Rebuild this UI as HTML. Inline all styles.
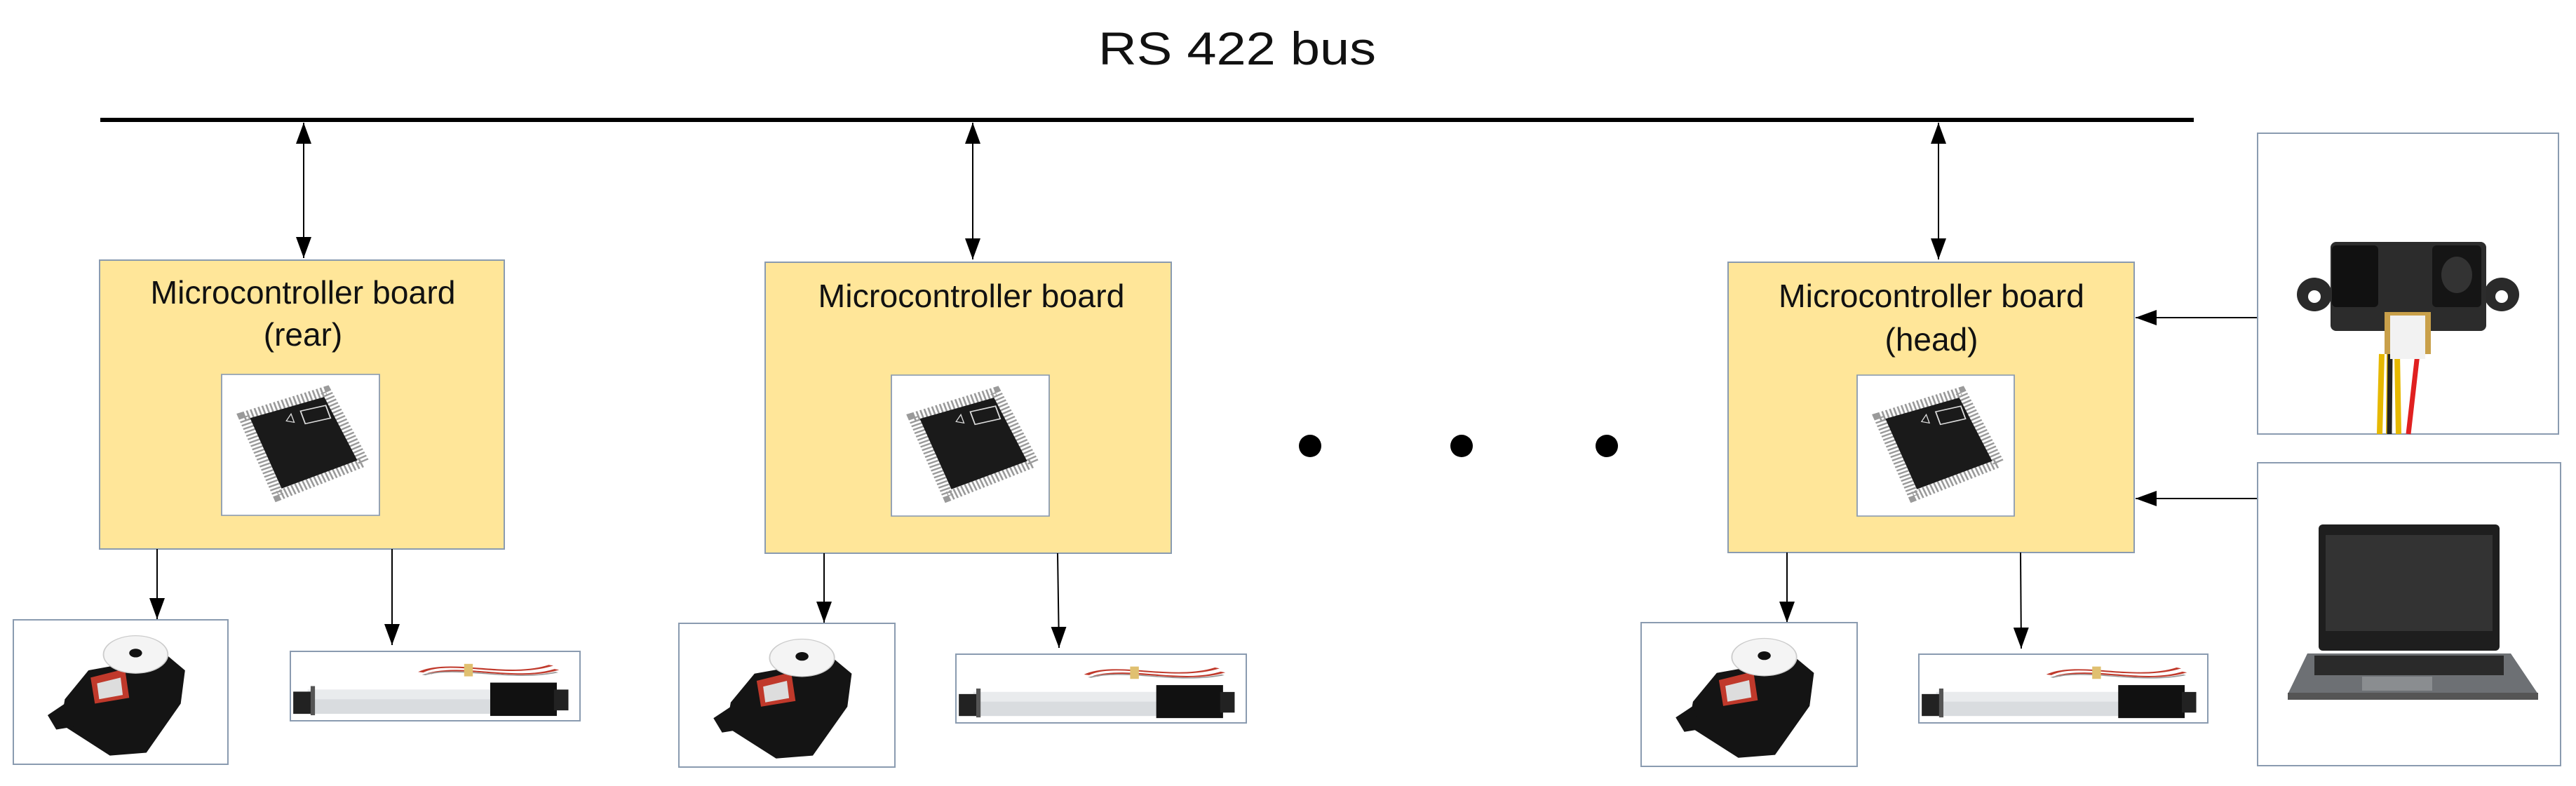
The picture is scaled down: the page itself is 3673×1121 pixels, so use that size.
<!DOCTYPE html>
<html><head><meta charset="utf-8"><style>
html,body{margin:0;padding:0;background:#fff;}
svg{display:block;}
text{font-family:"Liberation Sans",sans-serif;fill:#111;}
</style></head><body>
<svg width="3673" height="1121" viewBox="0 0 3673 1121" xmlns="http://www.w3.org/2000/svg">
<defs>
<marker id="ah2" viewBox="0 0 10 10" refX="10" refY="5" markerWidth="30" markerHeight="22" markerUnits="userSpaceOnUse" orient="auto-start-reverse" preserveAspectRatio="none">
<path d="M0,0 L10,5 L0,10 z" fill="#000"/></marker>
<g id="chip">
<rect x="0" y="0" width="100" height="100" fill="#fff" stroke="#8a9bb0" stroke-width="0.8"/>
<polygon points="14,30 66,12 90,62 36,86" fill="none" stroke="#9a9a9a" stroke-width="7" stroke-dasharray="1.2 1.4"/>
<polygon points="18,31 65,16 86,61 38,81" fill="#1a1a1a"/>
<polygon points="50,26 66,22 69,31 53,35" fill="none" stroke="#ddd" stroke-width="0.8"/>
<polygon points="41,33 44,28 46,34" fill="none" stroke="#ddd" stroke-width="0.6"/>
</g>
<g id="servo">
<polygon points="35,35 72,25 80,35 78,58 62,92 45,94 22,72 24,55" fill="#141414"/>
<polygon points="24,58 16,66 20,76 28,74" fill="#141414"/>
<polygon points="36,40 52,34 54,54 38,58" fill="#c0392b"/>
<polygon points="39,44 50,40 51,52 40,55" fill="#ddd"/>
<ellipse cx="57" cy="24" rx="15" ry="13" fill="#f4f4f4" stroke="#ccc" stroke-width="0.6"/>
<ellipse cx="57" cy="23" rx="3" ry="3" fill="#111"/>
</g>
<g id="act">
<path d="M45,30 C55,10 75,40 90,20 M48,32 C60,18 78,44 92,26" stroke="#c0392b" stroke-width="2" fill="none"/>
<path d="M46,34 C58,20 76,44 92,30" stroke="#999" stroke-width="1.5" fill="none"/>
<rect x="60" y="18" width="3" height="18" fill="#e0c070"/>
<rect x="6" y="55" width="67" height="35" fill="#d9dcdf"/>
<rect x="6" y="55" width="67" height="14" fill="#e9ebed"/>
<rect x="1" y="58" width="7" height="32" fill="#222"/>
<rect x="7" y="50" width="1.5" height="42" fill="#555"/>
<rect x="69" y="45" width="23" height="48" fill="#111"/>
<rect x="91" y="55" width="5" height="30" fill="#222"/>
</g>
</defs>

<text x="1764" y="92" font-size="66" text-anchor="middle" textLength="396" lengthAdjust="spacingAndGlyphs">RS 422 bus</text>
<line x1="143" y1="171" x2="3128" y2="171" stroke="#000" stroke-width="6"/>

<line x1="433" y1="175" x2="433" y2="368" stroke="#000" stroke-width="2" marker-start="url(#ah2)" marker-end="url(#ah2)"/>
<line x1="1387" y1="175" x2="1387" y2="370" stroke="#000" stroke-width="2" marker-start="url(#ah2)" marker-end="url(#ah2)"/>
<line x1="2764" y1="175" x2="2764" y2="370" stroke="#000" stroke-width="2" marker-start="url(#ah2)" marker-end="url(#ah2)"/>

<rect x="142" y="371" width="577" height="412" fill="#ffe699" stroke="#8a9bb0" stroke-width="2"/>
<text x="432" y="433" font-size="46" text-anchor="middle" textLength="435" lengthAdjust="spacingAndGlyphs">Microcontroller board</text>
<text x="432" y="493" font-size="46" text-anchor="middle">(rear)</text>
<use href="#chip" transform="translate(316,534) scale(2.25,2.01)"/>

<rect x="1091" y="374" width="579" height="415" fill="#ffe699" stroke="#8a9bb0" stroke-width="2"/>
<text x="1385" y="438" font-size="46" text-anchor="middle" textLength="437" lengthAdjust="spacingAndGlyphs">Microcontroller board</text>
<use href="#chip" transform="translate(1271,535) scale(2.25,2.01)"/>

<rect x="2464" y="374" width="579" height="414" fill="#ffe699" stroke="#8a9bb0" stroke-width="2"/>
<text x="2754" y="438" font-size="46" text-anchor="middle" textLength="436" lengthAdjust="spacingAndGlyphs">Microcontroller board</text>
<text x="2754" y="500" font-size="46" text-anchor="middle">(head)</text>
<use href="#chip" transform="translate(2648,535) scale(2.24,2.01)"/>

<circle cx="1868" cy="636" r="16" fill="#000"/>
<circle cx="2084" cy="636" r="16" fill="#000"/>
<circle cx="2291" cy="636" r="16" fill="#000"/>

<line x1="224" y1="783" x2="224" y2="883" stroke="#000" stroke-width="2" marker-end="url(#ah2)"/>
<line x1="559" y1="783" x2="559" y2="920" stroke="#000" stroke-width="2" marker-end="url(#ah2)"/>
<line x1="1175" y1="789" x2="1175" y2="888" stroke="#000" stroke-width="2" marker-end="url(#ah2)"/>
<line x1="1508" y1="789" x2="1510" y2="924" stroke="#000" stroke-width="2" marker-end="url(#ah2)"/>
<line x1="2548" y1="788" x2="2548" y2="888" stroke="#000" stroke-width="2" marker-end="url(#ah2)"/>
<line x1="2881" y1="788" x2="2882" y2="925" stroke="#000" stroke-width="2" marker-end="url(#ah2)"/>

<line x1="3219" y1="453" x2="3045" y2="453" stroke="#000" stroke-width="2" marker-end="url(#ah2)"/>
<line x1="3219" y1="711" x2="3045" y2="711" stroke="#000" stroke-width="2" marker-end="url(#ah2)"/>

<rect x="19" y="884" width="306" height="206" fill="#fff" stroke="#8a9bb0" stroke-width="2"/>
<use href="#servo" transform="translate(19,884) scale(3.06,2.06)"/>
<rect x="968" y="889" width="308" height="205" fill="#fff" stroke="#8a9bb0" stroke-width="2"/>
<use href="#servo" transform="translate(968,889) scale(3.08,2.05)"/>
<rect x="2340" y="888" width="308" height="205" fill="#fff" stroke="#8a9bb0" stroke-width="2"/>
<use href="#servo" transform="translate(2340,888) scale(3.08,2.05)"/>

<rect x="414" y="929" width="413" height="99" fill="#fff" stroke="#8a9bb0" stroke-width="2"/>
<use href="#act" transform="translate(414,929) scale(4.13,0.99)"/>
<rect x="1363" y="933" width="414" height="98" fill="#fff" stroke="#8a9bb0" stroke-width="2"/>
<use href="#act" transform="translate(1363,933) scale(4.14,0.98)"/>
<rect x="2736" y="933" width="412" height="98" fill="#fff" stroke="#8a9bb0" stroke-width="2"/>
<use href="#act" transform="translate(2736,933) scale(4.12,0.98)"/>

<rect x="3219" y="190" width="429" height="429" fill="#fff" stroke="#8a9bb0" stroke-width="2"/>
<g>
<path d="M3396,505 L3393,619 M3407,505 L3406,619 M3418,505 L3420,619" stroke="#e6b800" stroke-width="8"/>
<path d="M3408,505 L3407,619" stroke="#222" stroke-width="7"/>
<path d="M3447,505 L3434,619" stroke="#e02020" stroke-width="7"/>
<path d="M3396,505 L3393,619" stroke="#e6b800" stroke-width="7"/>
<ellipse cx="3300" cy="420" rx="25" ry="24" fill="#2a2a2a"/>
<ellipse cx="3567" cy="420" rx="25" ry="24" fill="#2a2a2a"/>
<circle cx="3300" cy="423" r="9" fill="#fff"/>
<circle cx="3567" cy="423" r="9" fill="#fff"/>
<rect x="3323" y="345" width="222" height="127" rx="8" fill="#2c2c2c"/>
<rect x="3325" y="350" width="66" height="88" rx="6" fill="#111"/>
<rect x="3468" y="350" width="70" height="88" rx="6" fill="#151515"/>
<ellipse cx="3503" cy="392" rx="22" ry="26" fill="#333"/>
<rect x="3400" y="445" width="66" height="60" fill="#c9a04a"/>
<rect x="3408" y="450" width="50" height="62" fill="#f2f2f2"/>
</g>

<rect x="3219" y="660" width="432" height="432" fill="#fff" stroke="#8a9bb0" stroke-width="2"/>
<g>
<rect x="3306" y="748" width="258" height="180" rx="6" fill="#1e1e1e"/>
<rect x="3316" y="763" width="238" height="137" fill="#333"/>
<path d="M3262,990 L3290,932 L3580,932 L3619,990 Z" fill="#6d7074"/>
<rect x="3300" y="935" width="270" height="28" fill="#2a2a2a"/>
<rect x="3368" y="965" width="100" height="20" fill="#8a8d90"/>
<rect x="3262" y="988" width="357" height="10" fill="#555"/>
</g>
</svg>
</body></html>
